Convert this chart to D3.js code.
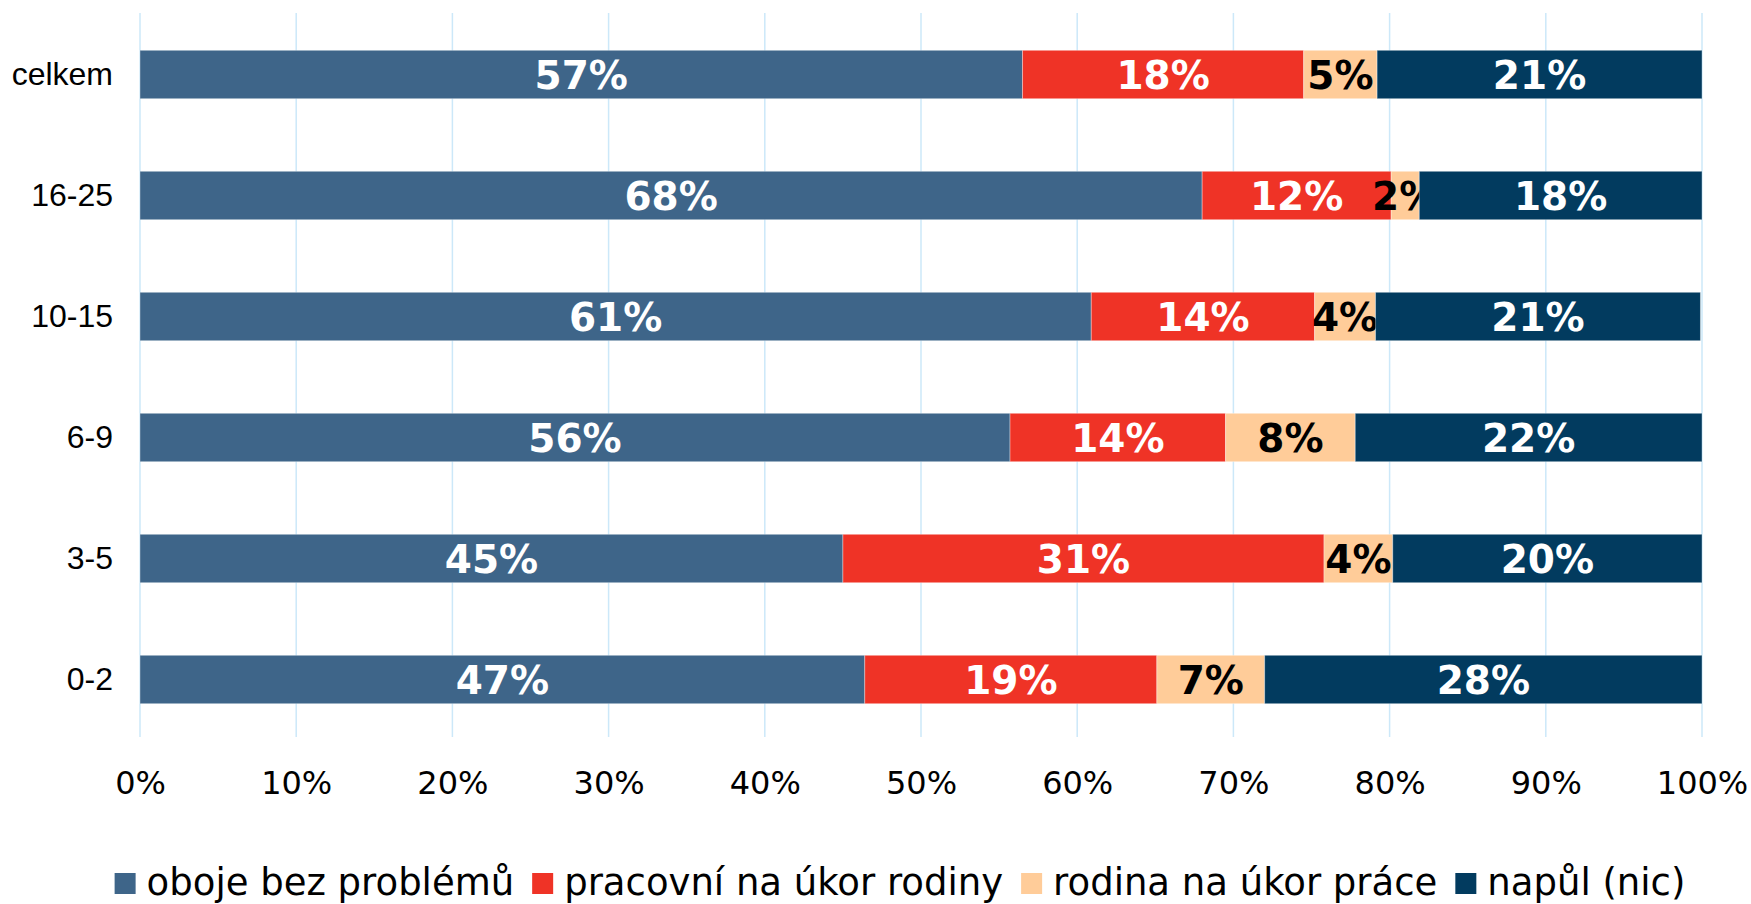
<!DOCTYPE html>
<html>
<head>
<meta charset="utf-8">
<script src="https://cdn.jsdelivr.net/npm/d3@7"></script>
<style>
  body { margin: 0; background: #fff; }
  svg { display: block; }
</style>
</head>
<body>
<div id="chart"></div>
<script>
// kategorie (shora dolu)
var categories = ["celkem", "16-25", "10-15", "6-9", "3-5", "0-2"];

var seriesNames = ["oboje bez problémů", "pracovní na úkor rodiny", "rodina na úkor práce", "napůl (nic)"];

// hodnoty v procentech
var obojeValues = [56.5, 68.0, 60.9, 55.7, 45.0, 46.4];
var pracovniValues = [18.0, 12.1, 14.3, 13.8, 30.8, 18.7];
var rodinaValues = [4.7, 1.8, 3.9, 8.3, 4.4, 6.9];
var napulValues = [20.8, 18.1, 20.8, 22.2, 19.8, 28.0];

// popisky jak jsou v grafu
var obojeLabels = ["57%", "68%", "61%", "56%", "45%", "47%"];
var pracovniLabels = ["18%", "12%", "14%", "14%", "31%", "19%"];
var rodinaLabels = ["5%", "2%", "4%", "8%", "4%", "7%"];
var napulLabels = ["21%", "18%", "21%", "22%", "20%", "28%"];

var xTicks = [0, 10, 20, 30, 40, 50, 60, 70, 80, 90, 100];

var colors = ["#3e6589", "#ef3326", "#ffcc99", "#023b5f"];
var labelColors = ["#fff", "#fff", "#000", "#fff"];

var width = 1751, height = 904;
var margin = { top: 14, right: 49, bottom: 164, left: 140 };
var gridBottom = 737;

var svg = d3.select("#chart")
    .append("svg")
    .attr("width", width)
    .attr("height", height);

var x = d3.scaleLinear()
    .domain([0, 100])
    .range([margin.left, width - margin.right]);

var y = d3.scaleBand()
    .domain(categories)
    .range([margin.top, height - margin.bottom])
    .paddingInner(0.6)
    .paddingOuter(0.3);

// mřížka
svg.append("g")
    .selectAll("line")
    .data(xTicks)
    .enter()
    .append("line")
    .attr("x1", d => x(d))
    .attr("x2", d => x(d))
    .attr("y1", 13)
    .attr("y2", gridBottom)
    .attr("stroke", "#cce8f9")
    .attr("stroke-width", 1.5);

// osa x
var xAxis = svg.append("g")
    .attr("transform", "translate(0," + (height - margin.bottom) + ")")
    .call(d3.axisBottom(x).tickValues(xTicks).tickFormat(d => d + "%").tickSize(0).tickPadding(31));
xAxis.select(".domain").remove();
xAxis.selectAll("text")
    .attr("font-family", "DejaVu Sans")
    .attr("font-size", 32)
    .attr("fill", "#000");

// osa y
var yAxis = svg.append("g")
    .attr("transform", "translate(" + (margin.left - 27) + ",0)")
    .call(d3.axisLeft(y).tickSize(0).tickPadding(0));
yAxis.select(".domain").remove();
yAxis.selectAll("text")
    .attr("font-family", "Liberation Sans, Arial, sans-serif")
    .attr("font-size", 32)
    .attr("fill", "#000");

// skládání
var allValues = [obojeValues, pracovniValues, rodinaValues, napulValues];
var allLabels = [obojeLabels, pracovniLabels, rodinaLabels, napulLabels];

var rows = categories.map(function (c, i) {
    var row = { cat: c };
    seriesNames.forEach(function (s, j) { row[s] = allValues[j][i]; });
    return row;
});

var stack = d3.stack().keys(seriesNames);
var stacked = stack(rows);

var groups = svg.selectAll("g.series")
    .data(stacked)
    .enter()
    .append("g")
    .attr("class", "series");

groups.selectAll("rect")
    .data(d => d)
    .enter()
    .append("rect")
    .attr("x", d => x(d[0]))
    .attr("y", d => y(d.data.cat))
    .attr("width", d => x(d[1]) - x(d[0]))
    .attr("height", y.bandwidth())
    .attr("fill", function () { return colors[d3.select(this.parentNode).datum().index]; })
    .attr("stroke", "rgba(255,255,255,0.35)")
    .attr("stroke-width", 1);

groups.selectAll("text")
    .data(d => d)
    .enter()
    .append("text")
    .attr("x", d => (x(d[0]) + x(d[1])) / 2)
    .attr("y", d => y(d.data.cat) + y.bandwidth() / 2)
    .attr("dy", "0.37em")
    .attr("text-anchor", "middle")
    .attr("font-family", "DejaVu Sans")
    .attr("font-weight", "bold")
    .attr("font-size", 39)
    .attr("fill", function () { return labelColors[d3.select(this.parentNode).datum().index]; })
    .text(function (d, i) { return allLabels[d3.select(this.parentNode).datum().index][i]; });

// legenda
var legend = svg.append("g");
var items = legend.selectAll("g")
    .data(seriesNames)
    .enter()
    .append("g");

items.append("rect")
    .attr("width", 21)
    .attr("height", 21)
    .attr("y", 873)
    .attr("fill", (d, i) => colors[i]);

items.append("text")
    .attr("x", 32)
    .attr("y", 895)
    .attr("font-family", "DejaVu Sans")
    .attr("font-size", 37)
    .attr("fill", "#000")
    .text(d => d);

var gap = 18;
var pos = 0;
items.each(function () {
    var w = this.getBBox().width;
    d3.select(this).attr("data-x", pos);
    pos += w + gap;
});
var totalW = pos - gap;
var startX = 900 - totalW / 2;
items.attr("transform", function () {
    return "translate(" + (startX + (+d3.select(this).attr("data-x"))) + ",0)";
});
</script>
</body>
</html>
